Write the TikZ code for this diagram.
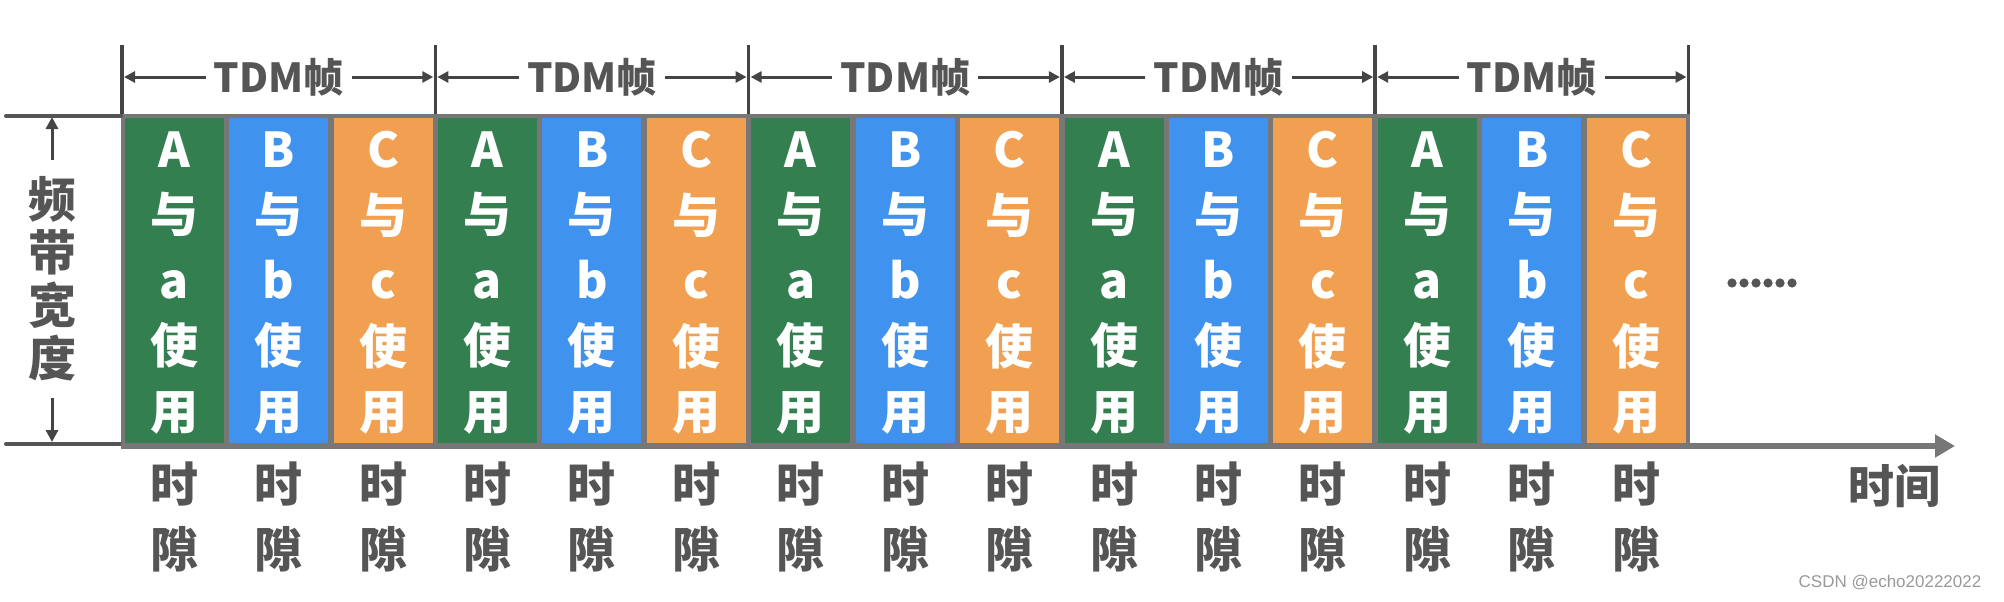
\documentclass[tikz,border=0pt]{standalone}
\usepackage{fontspec}
\newfontfamily\cjk{Noto Sans CJK SC}
\newfontfamily\wm{Liberation Sans}
\usetikzlibrary{arrows.meta}
\definecolor{cg}{HTML}{337F4F}
\definecolor{cb}{HTML}{3F92EE}
\definecolor{co}{HTML}{F0A050}
\definecolor{bord}{HTML}{777777}
\definecolor{ink}{HTML}{555555}
\definecolor{dark}{HTML}{444444}
\tikzset{
  cell/.style={minimum width=99pt, minimum height=325pt, inner sep=0pt, text=white,
    align=center, font={\cjk\bfseries\fontsize{48}{65.5}\selectfont}},
  slotlbl/.style={inner sep=0pt, text=ink, align=center, font={\cjk\bfseries\fontsize{48}{65}\selectfont}},
  framelbl/.style={inner sep=8pt, text=ink, font={\cjk\bfseries\fontsize{40}{40}\selectfont}},
  dimarrow/.style={draw=dark, line width=3pt, -{Triangle[length=11pt,width=11pt]}},
  framebar/.style={draw=dark, line width=3.5pt},
  sideline/.style={draw=ink, line width=4pt, line cap=round},
  sidearrow/.style={draw=dark, line width=3pt, -{Triangle[length=12pt,width=12pt]}},
  axisline/.style={draw=bord, line width=6pt, -{Triangle[length=20pt,width=22pt]}},
}
\begin{document}
\begin{tikzpicture}[x=1pt,y=-1pt]
\useasboundingbox (0,0) rectangle (2004,602);
% gray band
\fill[bord] (121,114) rectangle (1690,446);
% slots
\foreach \k in {0,...,4} {
  \foreach \j/\col/\U/\L in {0/cg/A/a,1/cb/B/b,2/co/C/c} {
    \pgfmathsetmacro\cx{122+(3*\k+\j+0.5)*104.43}
    \coordinate (c\k\j) at (\cx,280);
    \fill[\col] ([xshift=-49.5pt,yshift=162.5pt]c\k\j) rectangle ([xshift=49.5pt,yshift=-162.5pt]c\k\j);
    \node[cell] (s\k\j) at (\cx,283) {\U\\与\\\L\\使\\用};
    \node[slotlbl] (t\k\j) at (\cx,517) {时\\隙};
  }
}
% frame boundaries and TDM labels
\foreach \k in {0,...,5} {
  \pgfmathsetmacro\bx{122+\k*313.3}
  \coordinate (bt\k) at (\bx,45);
  \coordinate (bb\k) at (\bx,114);
  \coordinate (bm\k) at (\bx,77);
  \draw[framebar] (bt\k) -- (bb\k);
}
\foreach \k [evaluate=\k as \n using int(\k+1)] in {0,...,4} {
  \pgfmathsetmacro\fx{122+(\k+0.5)*313.3}
  \node[framelbl] (f\k) at (\fx,77) {TDM帧};
  \draw[dimarrow] (f\k.west) -- ([xshift=2pt]bm\k);
  \draw[dimarrow] (f\k.east) -- ([xshift=-2pt]bm\n);
}
% left side: frequency band
\coordinate (lt0) at (6,116);
\coordinate (lt1) at (121,116);
\coordinate (lb0) at (6,444);
\coordinate (lb1) at (121,444);
\draw[sideline] (lt0) -- (lt1);
\draw[sideline] (lb0) -- (lb1);
\node[slotlbl, font={\cjk\bfseries\fontsize{48}{53}\selectfont}] (bw) at (52,279) {频\\带\\宽\\度};
\coordinate (upT) at (52,117);
\coordinate (upB) at (52,160);
\coordinate (dnT) at (52,398);
\coordinate (dnB) at (52,442);
\draw[sidearrow] (upB) -- (upT);
\draw[sidearrow] (dnT) -- (dnB);
% time axis
\coordinate (ax0) at (121,446);
\coordinate (ax1) at (1955,446);
\draw[axisline] (ax0) -- (ax1);
\node[slotlbl, font={\cjk\bfseries\fontsize{46}{46}\selectfont}] (tm) at (1894,486) {时间};
% dots
\foreach \d in {0,...,5} {
  \fill[ink] (1732+\d*12,283) circle (4.6pt);
}
% watermark
\node[inner sep=0pt, text=black!40, font={\wm\fontsize{17}{17}\selectfont}] (wmk) at (1890,583) {CSDN @echo20222022};
\end{tikzpicture}
\end{document}
